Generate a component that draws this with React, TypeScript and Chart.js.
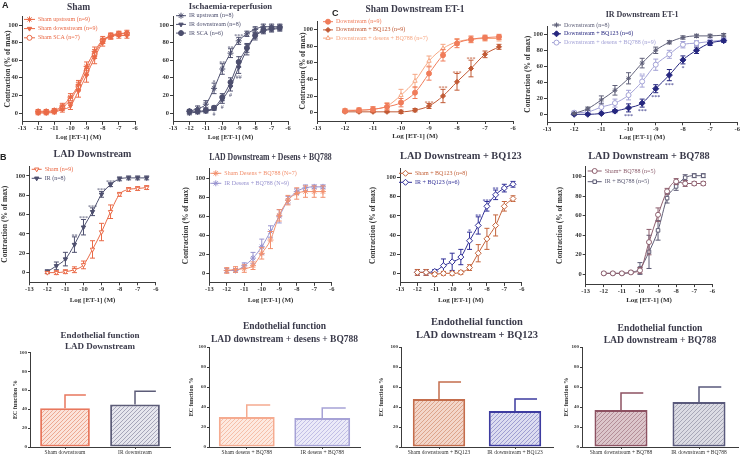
import React, { useEffect, useRef } from 'react';
import { Chart, registerables } from 'chart.js';
import { drawPoint } from 'chart.js/helpers';

Chart.register(...registerables);

const FONT = '"Liberation Serif", "Times New Roman", serif';
const AXIS = '#3c3c3c';
const TXT = '#333333';
const TITLE = '#3a3a4a';

// ---------------- data ----------------
const doses = [-12, -11.5, -11, -10.5, -10, -9.5, -9, -8.5, -8, -7.5, -7, -6.5];
const xTickValues = [-13, -12, -11, -10, -9, -8, -7, -6];
const yTickValues = [0, 20, 40, 60, 80, 100];

// A – Sham
const shamUpstream = [2, 2, 3, 8, 18, 32, 53, 70, 83, 87, 90, 91];
const shamUpstreamErr = [2, 2, 2, 3, 4, 5, 5, 5, 4, 3, 3, 3];
const shamDownstream = [0, 0, 1, 4, 8, 25, 43, 63, 80, 87, 88, 88];
const shamDownstreamErr = [2, 2, 2, 3, 4, 7, 8, 7, 4, 3, 3, 3];
const shamSCA = [1, 1, 2, 6, 15, 30, 48, 67, 82, 88, 90, 90];
const shamSCAErr = [2, 2, 2, 3, 4, 5, 5, 5, 3, 3, 2, 2];

// A – Ischaemia-reperfusion
const irUpstream = [2, 5, 10, 28, 50, 68, 82, 90, 95, 98, 98, 98];
const irUpstreamErr = [2, 3, 4, 6, 6, 5, 4, 3, 3, 3, 3, 3];
const irUpstreamMarks = ['', '', '', '*', '**', '**', '***', '', '', '', '', ''];
const irDownstream = [0, 1, 2, 5, 15, 30, 52, 72, 87, 93, 95, 96];
const irDownstreamErr = [2, 2, 2, 2, 4, 5, 7, 6, 4, 3, 3, 3];
const irDownstreamMarks = ['', '', '', '#', '#', '#', '##', '', '', '', '', ''];
const irSCA = [2, 2, 3, 6, 18, 35, 58, 74, 88, 94, 96, 97];
const irSCAErr = [2, 2, 2, 2, 4, 5, 6, 5, 3, 3, 3, 3];

// C – Sham downstream ET-1
const scDown = [2, 3, 4, 7, 12, 24, 47, 69, 83, 88, 90, 91];
const scDownErr = [2, 2, 3, 4, 5, 7, 8, 7, 5, 4, 3, 3];
const scBQ123 = [1, 1, 1, 1, 1, 3, 8, 20, 37, 53, 70, 79];
const scBQ123Err = [1, 1, 1, 1, 2, 2, 3, 8, 10, 10, 4, 3];
const scBQ123Marks = ['', '', '', '', '', '', '***', '***', '***', '***', '', ''];
const scDesens = [3, 3, 4, 8, 21, 38, 62, 77, 85, 88, 89, 89];
const scDesensErr = [2, 3, 3, 4, 7, 8, 6, 5, 4, 3, 3, 3];

// C – IR downstream ET-1
const icDown = [1, 7, 18, 30, 45, 64, 80, 90, 96, 98, 98, 99];
const icDownErr = [1, 2, 5, 6, 7, 6, 4, 2, 2, 2, 2, 2];
const icBQ123 = [0, 0, 1, 4, 8, 14, 32, 49, 68, 80, 89, 92];
const icBQ123Err = [1, 1, 1, 2, 5, 5, 5, 7, 5, 4, 3, 2];
const icBQ123Marks = ['', '', '', '', '***', '***', '***', '***', '*', '', '', ''];
const icDesens = [2, 3, 9, 14, 24, 41, 62, 75, 87, 89, 91, 93];
const icDesensErr = [2, 3, 5, 5, 6, 7, 7, 5, 4, 3, 3, 3];
const icDesensMarks = ['', '', '', '', '', '**', '', '', '', '', '', ''];

// B – LAD downstream
const ladSham = [0, 0, 1, 3, 8, 24, 42, 63, 81, 86, 87, 88];
const ladShamErr = [1, 2, 2, 3, 4, 9, 9, 7, 2, 2, 2, 2];
const ladIR = [1, 7, 14, 29, 47, 63, 81, 91, 97, 98, 98, 98];
const ladIRErr = [2, 4, 7, 8, 8, 4, 3, 2, 2, 2, 2, 2];
const ladIRMarks = ['', '', '', '**', '***', '***', '***', '***', '', '', '', ''];

// B – LAD downstream + desens + BQ788
const desSham = [3, 4, 5, 8, 21, 35, 61, 77, 84, 86, 86, 86];
const desShamErr = [3, 3, 4, 4, 6, 9, 6, 5, 6, 6, 6, 6];
const desIR = [3, 3, 8, 16, 28, 44, 60, 77, 86, 90, 91, 91];
const desIRErr = [2, 2, 3, 6, 8, 6, 7, 4, 3, 3, 2, 2];

// B – LAD downstream + BQ123
const bq123Sham = [1, 1, -1, 0, 0, 1, 6, 21, 36, 50, 70, 78];
const bq123ShamErr = [3, 3, 2, 2, 2, 2, 3, 9, 11, 11, 5, 3];
const bq123IR = [1, 1, 2, 8, 12, 17, 34, 50, 70, 82, 89, 93];
const bq123IRErr = [3, 3, 2, 7, 9, 8, 9, 9, 5, 5, 4, 3];
const bq123IRMarks = ['', '', '', '', '', '', '*', '**', '***', '**', '', ''];

// B – LAD downstream + BQ788
const bq788Sham = [1, 1, 1, 2, 4, 33, 61, 85, 95, 93, 93, 93];
const bq788ShamErr = [1, 1, 1, 1, 3, 13, 7, 3, 3, 3, 2, 2];
const bq788IR = [1, 1, 1, 2, 6, 23, 45, 78, 90, 99, 101, 101];
const bq788IRErr = [1, 1, 1, 1, 6, 17, 10, 5, 4, 3, 2, 2];

// Endothelial function bars
const ecLabels1 = ['Sham downstream', 'IR downstream'];
const ecValues1 = [41, 45];
const ecErr1 = [14, 14];
const ecLabels2 = ['Sham desens + BQ788', 'IR desens + BQ788'];
const ecValues2 = [30, 29];
const ecErr2 = [12, 10];
const ecLabels3 = ['Sham downstream + BQ123', 'IR downstream + BQ123'];
const ecValues3 = [48, 36];
const ecErr3 = [17, 12];
const ecLabels4 = ['Sham downstream + BQ788', 'IR downstream + BQ788'];
const ecValues4 = [37, 45];
const ecErr4 = [17, 15];

// ---------------- plugins ----------------
const lineErrorPlugin = {
  id: 'lineErrors',
  beforeDatasetDraw(chart: any, args: any) {
    const ds = chart.data.datasets[args.index];
    if (!ds.errors) return;
    const meta = chart.getDatasetMeta(args.index);
    const ys = chart.scales.y;
    const ctx = chart.ctx;
    ctx.save();
    ctx.strokeStyle = ds.borderColor;
    ctx.lineWidth = 1;
    const cap = 2.5;
    meta.data.forEach((pt: any, j: number) => {
      const v = ds.data[j].y;
      const e = ds.errors[j];
      if (!e) return;
      const yT = ys.getPixelForValue(v + e);
      const yB = ys.getPixelForValue(v - e);
      ctx.beginPath();
      ctx.moveTo(pt.x, yT); ctx.lineTo(pt.x, yB);
      ctx.moveTo(pt.x - cap, yT); ctx.lineTo(pt.x + cap, yT);
      ctx.moveTo(pt.x - cap, yB); ctx.lineTo(pt.x + cap, yB);
      ctx.stroke();
    });
    ctx.restore();
  },
};

const marksPlugin = {
  id: 'sigMarks',
  afterDatasetsDraw(chart: any) {
    const ctx = chart.ctx;
    const ys = chart.scales.y;
    chart.data.datasets.forEach((ds: any, i: number) => {
      if (!ds.marks) return;
      const meta = chart.getDatasetMeta(i);
      ctx.save();
      ctx.fillStyle = ds.borderColor;
      ctx.font = `6px ${FONT}`;
      ctx.textAlign = 'center';
      ds.marks.forEach((m: string, j: number) => {
        if (!m) return;
        const pt = meta.data[j];
        const v = ds.data[j].y;
        const e = ds.errors ? ds.errors[j] : 0;
        if (ds.markPos === 'below') {
          ctx.textBaseline = 'top';
          ctx.fillText(m, pt.x, ys.getPixelForValue(v - e) + 1.5);
        } else {
          ctx.textBaseline = 'alphabetic';
          ctx.fillText(m, pt.x, ys.getPixelForValue(v + e) + 1);
        }
      });
      ctx.restore();
    });
  },
};

const miniLegendPlugin = {
  id: 'miniLegend',
  afterDraw(chart: any) {
    const opts = chart.config.options.miniLegendCfg;
    if (!opts) return;
    const { ctx, chartArea } = chart;
    ctx.save();
    ctx.font = `6px ${FONT}`;
    ctx.textBaseline = 'middle';
    ctx.textAlign = 'left';
    chart.data.datasets.forEach((ds: any, i: number) => {
      const y = chartArea.top + opts.y + i * opts.row;
      const x = chartArea.left + opts.x;
      ctx.strokeStyle = ds.borderColor;
      ctx.lineWidth = 1;
      ctx.beginPath();
      ctx.moveTo(x, y);
      ctx.lineTo(x + opts.lineW, y);
      ctx.stroke();
      ctx.fillStyle = ds.pointBackgroundColor;
      ctx.strokeStyle = ds.borderColor;
      drawPoint(ctx, { pointStyle: ds.pointStyle, rotation: ds.pointRotation || 0, radius: ds.pointRadius, borderWidth: 1 } as any, x + opts.lineW / 2, y);
      ctx.fillStyle = ds.borderColor;
      ctx.fillText(ds.label, x + opts.lineW + opts.gap, y);
    });
    ctx.restore();
  },
};

const barErrorPlugin = {
  id: 'barErrors',
  afterDatasetsDraw(chart: any) {
    const ctx = chart.ctx;
    const ys = chart.scales.y;
    chart.data.datasets.forEach((ds: any, i: number) => {
      if (!ds.errors) return;
      const meta = chart.getDatasetMeta(i);
      meta.data.forEach((bar: any, j: number) => {
        const v = ds.data[j];
        const e = ds.errors[j];
        const yT = ys.getPixelForValue(v + e);
        ctx.save();
        ctx.strokeStyle = ds.borderColor[j];
        ctx.lineWidth = 1.5;
        ctx.beginPath();
        ctx.moveTo(bar.x, bar.y);
        ctx.lineTo(bar.x, yT);
        ctx.moveTo(bar.x - 0.75, yT);
        ctx.lineTo(bar.x + bar.width * 0.42, yT);
        ctx.stroke();
        ctx.restore();
      });
    });
  },
};

// ---------------- layout helpers ----------------
type Box = { left: number; top: number; width: number; height: number };
type Area = { x0: number; x1: number; y0: number; y1: number };

function computeLayout(box: Box, area: Area, titleY: number, titleLH: number, titleLines: number,
  yTitleX: number | null, yTitleSize: number, xTitleY: number | null, xTitleSize: number) {
  const padTop = titleY - box.top - titleLH / 2;
  const titlePadBottom = area.y0 - box.top - padTop - titleLH * titleLines;
  const padLeft = yTitleX != null ? yTitleX - box.left - (yTitleSize * 1.2) / 2 : 0;
  const yWidth = area.x0 - box.left - padLeft;
  const padRight = box.left + box.width - area.x1;
  const padBottom = xTitleY != null ? box.top + box.height - xTitleY - (xTitleSize * 1.2) / 2 : 0;
  const xHeight = box.top + box.height - padBottom - area.y1;
  return { padTop, titlePadBottom, padLeft, yWidth, padRight, padBottom, xHeight };
}

type Series = {
  label: string; values: number[]; errors: number[]; color: string; marker: string;
  rot?: number; open?: boolean; r?: number; marks?: string[]; markPos?: 'above' | 'below';
};
type LegendCfg = { x: number; y: number; row: number; lineW: number; gap: number };
type DosePanel = {
  box: Box; area: Area; title: string; titleY: number; titleSize: number;
  yTitleX: number | null; xTitleY: number; series: Series[]; legend: LegendCfg;
};

function axisGrid(tickLength: number) {
  return { drawOnChartArea: false, drawTicks: true, tickLength, color: AXIS, lineWidth: 1 };
}

function doseConfig(p: DosePanel): any {
  const LH = p.titleSize * 1.2;
  const L = computeLayout(p.box, p.area, p.titleY, LH, 1, p.yTitleX, 7.5, p.xTitleY, 7);
  return {
    type: 'line',
    data: {
      datasets: p.series.map((s) => ({
        label: s.label,
        data: doses.map((d, i) => ({ x: d, y: s.values[i] })),
        borderColor: s.color,
        backgroundColor: s.color,
        pointBackgroundColor: s.open ? '#ffffff' : s.color,
        pointBorderColor: s.color,
        pointStyle: s.marker,
        pointRotation: s.rot || 0,
        pointRadius: s.r ?? 2.5,
        pointBorderWidth: 1,
        borderWidth: 1,
        cubicInterpolationMode: 'monotone',
        fill: false,
        errors: s.errors,
        marks: s.marks,
        markPos: s.markPos,
      })),
    },
    options: {
      animation: false,
      responsive: false,
      devicePixelRatio: 1,
      events: [],
      miniLegendCfg: p.legend,
      layout: {
        autoPadding: false,
        padding: { left: L.padLeft, right: L.padRight, top: L.padTop, bottom: L.padBottom },
      },
      plugins: {
        legend: { display: false },
        tooltip: { enabled: false },
        title: {
          display: true, text: p.title, fullSize: false, color: TITLE,
          font: { family: FONT, size: p.titleSize, weight: 'bold', lineHeight: 1.2 },
          padding: { top: 0, bottom: L.titlePadBottom },
        },
      },
      scales: {
        x: {
          type: 'linear', min: -13, max: -6,
          afterBuildTicks: (s: any) => { s.ticks = xTickValues.map((v) => ({ value: v })); },
          afterFit: (s: any) => { s.height = L.xHeight; },
          ticks: { font: { family: FONT, size: 6.5, weight: 'bold' }, color: TXT, padding: 0, maxRotation: 0, autoSkip: false, callback: (v: any) => String(v) },
          grid: axisGrid(3),
          border: { display: true, color: AXIS, width: 1 },
          title: { display: true, text: 'Log [ET-1] (M)', color: TXT, font: { family: FONT, size: 7, weight: 'bold' }, padding: 0 },
        },
        y: {
          type: 'linear', min: -10, max: 110,
          afterBuildTicks: (s: any) => { s.ticks = yTickValues.map((v) => ({ value: v })); },
          afterFit: (s: any) => { s.width = L.yWidth; },
          ticks: { font: { family: FONT, size: 6.5, weight: 'bold' }, color: TXT, padding: 1, callback: (v: any) => String(v) },
          grid: axisGrid(3),
          border: { display: true, color: AXIS, width: 1 },
          title: p.yTitleX != null
            ? { display: true, text: 'Contraction (% of max)', color: TXT, font: { family: FONT, size: 7.5, weight: 'bold' }, padding: 0 }
            : { display: false },
        },
      },
    },
    plugins: [lineErrorPlugin, marksPlugin, miniLegendPlugin],
  };
}

type BarPanel = {
  box: Box; area: Area; title: string[]; titleY: number; titleSize: number; titleLH: number;
  yTitleX: number; labels: string[]; values: number[]; errors: number[];
  borders: string[]; fills: [string, string][]; barPct: number;
};

function hatch(bg: string, line: string) {
  const c = document.createElement('canvas');
  c.width = 4; c.height = 4;
  const x = c.getContext('2d')!;
  x.fillStyle = bg; x.fillRect(0, 0, 4, 4);
  x.strokeStyle = line; x.lineWidth = 1;
  x.beginPath();
  x.moveTo(0, 4); x.lineTo(4, 0);
  x.moveTo(-1, 1); x.lineTo(1, -1);
  x.moveTo(3, 5); x.lineTo(5, 3);
  x.stroke();
  return x.createPattern(c, 'repeat');
}

function barConfig(p: BarPanel): any {
  const L = computeLayout(p.box, p.area, p.titleY, p.titleLH, p.title.length, p.yTitleX, 6, null, 0);
  return {
    type: 'bar',
    data: {
      labels: p.labels,
      datasets: [{
        data: p.values,
        errors: p.errors,
        backgroundColor: p.fills.map(([bg, ln]) => hatch(bg, ln)),
        borderColor: p.borders,
        borderWidth: 2,
        borderSkipped: false,
        barPercentage: p.barPct,
        categoryPercentage: 1,
      }],
    },
    options: {
      animation: false,
      responsive: false,
      devicePixelRatio: 1,
      events: [],
      layout: {
        autoPadding: false,
        padding: { left: L.padLeft, right: L.padRight, top: L.padTop, bottom: L.padBottom },
      },
      plugins: {
        legend: { display: false },
        tooltip: { enabled: false },
        title: {
          display: true, text: p.title, fullSize: false, color: TITLE,
          font: { family: FONT, size: p.titleSize, weight: 'bold', lineHeight: p.titleLH / p.titleSize },
          padding: { top: 0, bottom: L.titlePadBottom },
        },
      },
      scales: {
        x: {
          type: 'category',
          afterFit: (s: any) => { s.height = L.xHeight; },
          ticks: { font: { family: FONT, size: 5.5 }, color: TXT, padding: 0, maxRotation: 0, autoSkip: false },
          grid: { ...axisGrid(2), offset: false },
          border: { display: true, color: AXIS, width: 1 },
        },
        y: {
          type: 'linear', min: 0, max: 100,
          afterBuildTicks: (s: any) => { s.ticks = yTickValues.map((v) => ({ value: v })); },
          afterFit: (s: any) => { s.width = L.yWidth; },
          ticks: { font: { family: FONT, size: 5, weight: 'bold' }, color: TXT, padding: 1, callback: (v: any) => String(v) },
          grid: axisGrid(2),
          border: { display: true, color: AXIS, width: 1 },
          title: { display: true, text: 'EC function %', color: TXT, font: { family: FONT, size: 6, weight: 'bold' }, padding: 0 },
        },
      },
    },
    plugins: [barErrorPlugin],
  };
}

// ---------------- panel specs ----------------
const ORANGE = '#ea6a47';
const SLATE = '#4d4f6e';

const dosePanels: DosePanel[] = [
  {
    box: { left: 0, top: 0, width: 150, height: 143 },
    area: { x0: 22, x1: 135, y0: 16.2, y1: 121.8 },
    title: 'Sham', titleY: 7.5, titleSize: 9.5, yTitleX: 8.5, xTitleY: 137,
    legend: { x: 2, y: 3.2, row: 9.2, lineW: 11, gap: 3 },
    series: [
      { label: 'Sham upstream (n=9)', values: shamUpstream, errors: shamUpstreamErr, color: ORANGE, marker: 'star', r: 3 },
      { label: 'Sham downstream (n=9)', values: shamDownstream, errors: shamDownstreamErr, color: ORANGE, marker: 'triangle', rot: 180 },
      { label: 'Sham SCA (n=7)', values: shamSCA, errors: shamSCAErr, color: ORANGE, marker: 'circle', open: true },
    ],
  },
  {
    box: { left: 150, top: 0, width: 150, height: 143 },
    area: { x0: 173, x1: 288, y0: 16.2, y1: 121.8 },
    title: 'Ischaemia-reperfusion', titleY: 6.5, titleSize: 8.7, yTitleX: null, xTitleY: 137,
    legend: { x: 3, y: -0.5, row: 8.7, lineW: 10, gap: 3 },
    series: [
      { label: 'IR upstream (n=8)', values: irUpstream, errors: irUpstreamErr, color: SLATE, marker: 'star', r: 3, marks: irUpstreamMarks, markPos: 'above' },
      { label: 'IR downstream (n=8)', values: irDownstream, errors: irDownstreamErr, color: SLATE, marker: 'triangle', rot: 180, marks: irDownstreamMarks, markPos: 'below' },
      { label: 'IR SCA (n=6)', values: irSCA, errors: irSCAErr, color: SLATE, marker: 'circle' },
    ],
  },
  {
    box: { left: 295, top: 0, width: 230, height: 143 },
    area: { x0: 317, x1: 513, y0: 21, y1: 121 },
    title: 'Sham Downstream ET-1', titleY: 10, titleSize: 9.5, yTitleX: 303, xTitleY: 136.3,
    legend: { x: 6, y: 0.7, row: 8.2, lineW: 10, gap: 3 },
    series: [
      { label: 'Downstream (n=9)', values: scDown, errors: scDownErr, color: '#f07c5a', marker: 'circle' },
      { label: 'Downstream + BQ123 (n=9)', values: scBQ123, errors: scBQ123Err, color: '#c15a35', marker: 'rectRot', marks: scBQ123Marks, markPos: 'above' },
      { label: 'Downstream + desens + BQ788 (n=7)', values: scDesens, errors: scDesensErr, color: '#f6a783', marker: 'triangle', open: true },
    ],
  },
  {
    box: { left: 520, top: 0, width: 220, height: 143 },
    area: { x0: 547, x1: 738, y0: 26.3, y1: 122.3 },
    title: 'IR Downstream ET-1', titleY: 15, titleSize: 8, yTitleX: 528, xTitleY: 136.7,
    legend: { x: 5, y: -1.3, row: 8.8, lineW: 9, gap: 3 },
    series: [
      { label: 'Downstream (n=8)', values: icDown, errors: icDownErr, color: '#5f6079', marker: 'star', r: 2.5 },
      { label: 'Downstream + BQ123 (n=6)', values: icBQ123, errors: icBQ123Err, color: '#26277f', marker: 'rectRot', r: 3, marks: icBQ123Marks, markPos: 'below' },
      { label: 'Downstream + desens + BQ788 (n=9)', values: icDesens, errors: icDesensErr, color: '#a3a2d6', marker: 'circle', open: true, marks: icDesensMarks, markPos: 'above' },
    ],
  },
  {
    box: { left: 0, top: 145, width: 165, height: 160 },
    area: { x0: 29.3, x1: 155.7, y0: 166.3, y1: 282.3 },
    title: 'LAD Downstream', titleY: 154.3, titleSize: 10, yTitleX: 5, xTitleY: 300,
    legend: { x: 2.4, y: 3, row: 9, lineW: 10, gap: 3 },
    series: [
      { label: 'Sham (n=9)', values: ladSham, errors: ladShamErr, color: ORANGE, marker: 'triangle', rot: 180, open: true },
      { label: 'IR (n=8)', values: ladIR, errors: ladIRErr, color: SLATE, marker: 'triangle', rot: 180, marks: ladIRMarks, markPos: 'above' },
    ],
  },
  {
    box: { left: 175, top: 145, width: 165, height: 160 },
    area: { x0: 209.3, x1: 331.7, y0: 168.8, y1: 282.8 },
    title: 'LAD Downstream + Desens + BQ788', titleY: 157.3, titleSize: 10, yTitleX: 186, xTitleY: 300,
    legend: { x: 1, y: 4.5, row: 10, lineW: 11, gap: 3 },
    series: [
      { label: 'Sham Desens + BQ788 (N=7)', values: desSham, errors: desShamErr, color: '#f2906e', marker: 'star', r: 3 },
      { label: 'IR Desens + BQ788 (N=9)', values: desIR, errors: desIRErr, color: '#9893cf', marker: 'star', r: 3 },
    ],
  },
  {
    box: { left: 360, top: 145, width: 170, height: 160 },
    area: { x0: 400, x1: 521.7, y0: 168, y1: 282.9 },
    title: 'LAD Downstream + BQ123', titleY: 156, titleSize: 11, yTitleX: 373, xTitleY: 300,
    legend: { x: -1, y: 5.3, row: 9, lineW: 13, gap: 3 },
    series: [
      { label: 'Sham + BQ123 (n=8)', values: bq123Sham, errors: bq123ShamErr, color: '#c4643c', marker: 'rectRot', open: true, r: 3 },
      { label: 'IR + BQ123 (n=6)', values: bq123IR, errors: bq123IRErr, color: '#2e2d96', marker: 'rectRot', open: true, r: 3, marks: bq123IRMarks, markPos: 'above' },
    ],
  },
  {
    box: { left: 545, top: 145, width: 195, height: 160 },
    area: { x0: 585.7, x1: 712.3, y0: 166.9, y1: 284.1 },
    title: 'LAD Downstream + BQ788', titleY: 156, titleSize: 10.3, yTitleX: 560, xTitleY: 300,
    legend: { x: 2, y: 4.1, row: 10.7, lineW: 14, gap: 3 },
    series: [
      { label: 'Sham+ BQ788 (n=5)', values: bq788Sham, errors: bq788ShamErr, color: '#8c5d6c', marker: 'circle', open: true },
      { label: 'IR + BQ788 (n=5)', values: bq788IR, errors: bq788IRErr, color: '#5d5b74', marker: 'rect', open: true },
    ],
  },
];

const barPanels: BarPanel[] = [
  {
    box: { left: 5, top: 318, width: 175, height: 140 },
    area: { x0: 30, x1: 170, y0: 352.3, y1: 447 },
    title: ['Endothelial function', 'LAD Downstream'], titleY: 336, titleSize: 9, titleLH: 10.7,
    yTitleX: 15, labels: ecLabels1, values: ecValues1, errors: ecErr1,
    borders: ['#e8775d', '#5c5c78'], fills: [['#fbe3da', '#eda892'], ['#e6e6ee', '#a6a6ba']], barPct: 0.71,
  },
  {
    box: { left: 183, top: 315, width: 185, height: 143 },
    area: { x0: 209, x1: 360, y0: 347, y1: 447 },
    title: ['Endothelial function', 'LAD downstream + desens + BQ788'], titleY: 327, titleSize: 9.5, titleLH: 13,
    yTitleX: 191.7, labels: ecLabels2, values: ecValues2, errors: ecErr2,
    borders: ['#f5ab90', '#a6a2d6'], fills: [['#fde9e0', '#f6bfa9'], ['#ebeaf8', '#c2bfe6']], barPct: 0.74,
  },
  {
    box: { left: 372, top: 312, width: 185, height: 146 },
    area: { x0: 401, x1: 553, y0: 347, y1: 447 },
    title: ['Endothelial function', 'LAD downstream + BQ123'], titleY: 322, titleSize: 10.5, titleLH: 13,
    yTitleX: 381.7, labels: ecLabels3, values: ecValues3, errors: ecErr3,
    borders: ['#c46d4c', '#3d3ba0'], fills: [['#f3d6ca', '#dda48b'], ['#dcdcf0', '#9e9dd2']], barPct: 0.69,
  },
  {
    box: { left: 555, top: 315, width: 185, height: 143 },
    area: { x0: 582, x1: 738, y0: 347, y1: 447 },
    title: ['Endothelial function', 'LAD downstream + BQ788'], titleY: 328.3, titleSize: 9.7, titleLH: 12,
    yTitleX: 566.7, labels: ecLabels4, values: ecValues4, errors: ecErr4,
    borders: ['#8d5262', '#5a5a7c'], fills: [['#dcc6cb', '#b48e98'], ['#dcdce4', '#a8a8b8']], barPct: 0.68,
  },
];

// ---------------- components ----------------
function ChartBox({ box, make }: { box: Box; make: () => any }) {
  const ref = useRef<HTMLCanvasElement>(null);
  useEffect(() => {
    const chart = new Chart(ref.current as HTMLCanvasElement, make());
    return () => chart.destroy();
  }, []);
  return (
    <canvas
      ref={ref}
      width={box.width}
      height={box.height}
      style={{ position: 'absolute', left: box.left, top: box.top, width: box.width, height: box.height }}
    />
  );
}

const letterStyle: React.CSSProperties = {
  position: 'absolute',
  font: 'bold 9px "Liberation Sans", Arial, sans-serif',
  lineHeight: '10px',
  color: '#222',
};

export default function App() {
  return (
    <div style={{ position: 'absolute', left: 0, top: 0, width: 740, height: 458, background: '#ffffff', overflow: 'hidden' }}>
      {dosePanels.map((p, i) => (
        <ChartBox key={'d' + i} box={p.box} make={() => doseConfig(p)} />
      ))}
      {barPanels.map((p, i) => (
        <ChartBox key={'b' + i} box={p.box} make={() => barConfig(p)} />
      ))}
      <div style={{ ...letterStyle, left: 2, top: 0 }}>A</div>
      <div style={{ ...letterStyle, left: 0, top: 152 }}>B</div>
      <div style={{ ...letterStyle, left: 332, top: 8 }}>C</div>
    </div>
  );
}
